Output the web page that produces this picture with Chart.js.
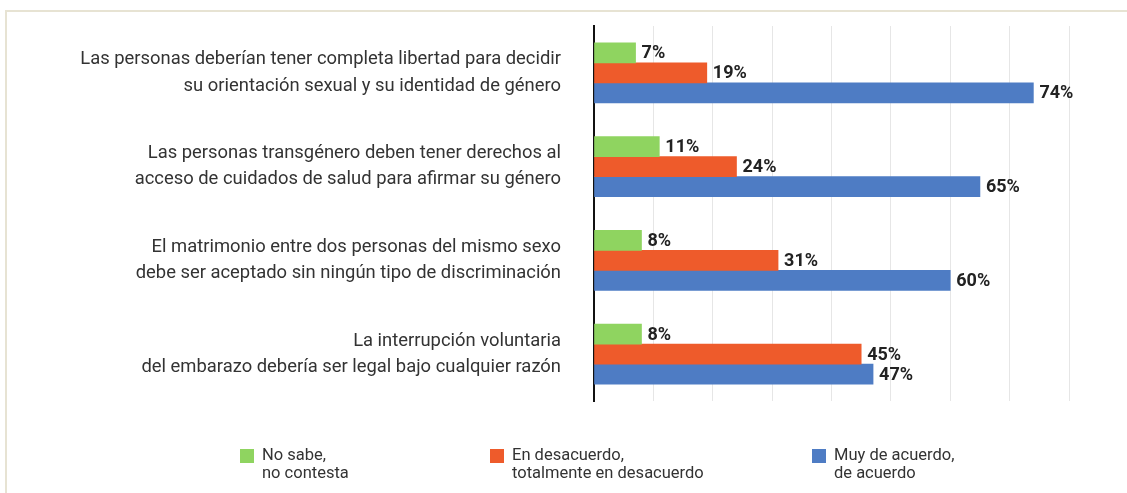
<!DOCTYPE html>
<html>
<head>
<meta charset="utf-8">
<script src="https://cdn.jsdelivr.net/npm/chart.js@4.4.0/dist/chart.umd.min.js"></script>
<style>
  html, body { margin: 0; padding: 0; background: #fff; }
  #frame { position: absolute; left: 5px; top: 10px; width: 1122px; height: 483px;
           border-top: 2px solid #e7e3d3; border-left: 2px solid #e7e3d3; }
  #wrap { position: absolute; left: 0; top: 0; width: 1127px; height: 493px; }
</style>
</head>
<body>
<div id="frame"></div>
<div id="wrap"><canvas id="chart" width="1127" height="493"></canvas></div>
<script>
const categories = [
    ['Las personas deberían tener completa libertad para decidir', 'su orientación sexual y su identidad de género'],
    ['Las personas transgénero deben tener derechos al', 'acceso de cuidados de salud para afirmar su género'],
    ['El matrimonio entre dos personas del mismo sexo', 'debe ser aceptado sin ningún tipo de discriminación'],
    ['La interrupción voluntaria', 'del embarazo debería ser legal bajo cualquier razón']
];
const seriesNames = [
    ['No sabe,', 'no contesta'],
    ['En desacuerdo,', 'totalmente en desacuerdo'],
    ['Muy de acuerdo,', 'de acuerdo']
];
const noSabe = [7, 11, 8, 8];
const desacuerdo = [19, 24, 31, 45];
const acuerdo = [74, 65, 60, 47];
const colors = ['#8fd460', '#ee5b2b', '#4e7cc4'];

const ctx = document.getElementById('chart').getContext('2d');

// etiquetas de valor al final de cada barra
const valueLabels = {
    id: 'valueLabels',
    afterDatasetsDraw(chart) {
        const c = chart.ctx;
        c.save();
        c.font = 'bold 18px Roboto';
        c.fillStyle = '#222';
        c.textBaseline = 'middle';
        c.textAlign = 'left';
        chart.data.datasets.forEach((ds, i) => {
            chart.getDatasetMeta(i).data.forEach((bar, j) => {
                c.fillText(ds.data[j] + '%', bar.x + 6, bar.y + 1);
            });
        });
        c.restore();
    }
};

// leyenda de dos líneas abajo
const bottomLegend = {
    id: 'bottomLegend',
    afterDraw(chart) {
        const c = chart.ctx;
        const xs = [240, 490, 812];
        c.save();
        c.font = '16.5px Roboto';
        c.textBaseline = 'middle';
        chart.data.datasets.forEach((ds, i) => {
            c.fillStyle = ds.backgroundColor;
            c.fillRect(xs[i], 449, 14, 14);
            c.fillStyle = '#333';
            seriesNames[i].forEach((line, k) => {
                c.fillText(line, xs[i] + 22, 456 + k * 18);
            });
        });
        c.restore();
    }
};

new Chart(ctx, {
    type: 'bar',
    data: {
        labels: categories,
        datasets: [
            { label: seriesNames[0].join(' '), data: noSabe, backgroundColor: colors[0] },
            { label: seriesNames[1].join(' '), data: desacuerdo, backgroundColor: colors[1] },
            { label: seriesNames[2].join(' '), data: acuerdo, backgroundColor: colors[2] }
        ]
    },
    options: {
        indexAxis: 'y',
        responsive: false,
        animation: false,
        layout: { padding: { top: 26, right: 58, bottom: 92, left: 0 } },
        datasets: { bar: { barThickness: 20 } },
        plugins: { legend: { display: false }, tooltip: { enabled: false } },
        scales: {
            x: {
                min: 0, max: 80,
                ticks: { display: false, stepSize: 10 },
                grid: { color: '#e6e6e6', drawTicks: false },
                border: { display: false }
            },
            y: {
                afterFit(scale) {
                    scale.width = 594;
                    scale.paddingTop = 0;
                    scale.paddingBottom = 0;
                },
                ticks: { color: '#333', font: { family: 'Roboto', size: 18.4, lineHeight: 1.42 }, padding: 33 },
                grid: { display: false, drawTicks: false },
                border: { display: true, color: '#111', width: 2 }
            }
        }
    },
    plugins: [valueLabels, bottomLegend]
});
</script>
</body>
</html>
